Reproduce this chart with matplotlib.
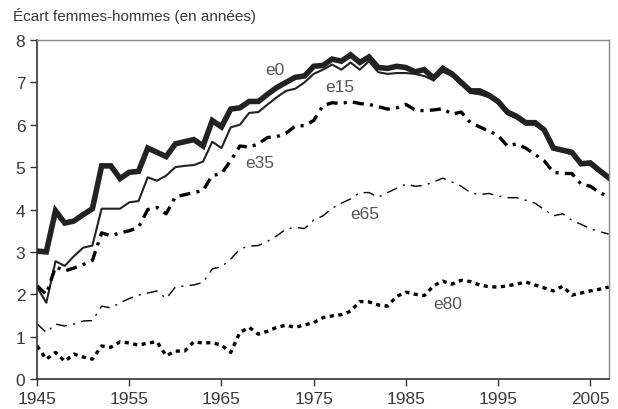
import numpy as np
import matplotlib
matplotlib.use("Agg")
import matplotlib.pyplot as plt

annees = list(range(1945, 2008))

e0 = [3.02, 3.00, 3.97, 3.68, 3.73, 3.88, 4.02, 5.03, 5.03, 4.73,
      4.88, 4.90, 5.45, 5.35, 5.25, 5.55, 5.60, 5.65, 5.50, 6.10,
      5.95, 6.37, 6.40, 6.55, 6.55, 6.72, 6.88, 7.00, 7.12, 7.15,
      7.38, 7.40, 7.55, 7.50, 7.65, 7.47, 7.60, 7.35, 7.33, 7.38,
      7.35, 7.25, 7.30, 7.10, 7.33, 7.20, 7.00, 6.80, 6.80, 6.70,
      6.55, 6.30, 6.20, 6.05, 6.05, 5.88, 5.45, 5.40, 5.35, 5.08,
      5.10, 4.92, 4.75]

e15 = [2.17, 1.80, 2.78, 2.67, 2.90, 3.10, 3.15, 4.02, 4.02, 4.02,
       4.17, 4.20, 4.76, 4.68, 4.80, 5.00, 5.03, 5.05, 5.13, 5.60,
       5.45, 5.94, 6.00, 6.28, 6.30, 6.48, 6.65, 6.80, 6.85, 7.00,
       7.20, 7.30, 7.42, 7.30, 7.47, 7.30, 7.50, 7.24, 7.20, 7.22,
       7.22, 7.20, 7.15, 7.05, 7.25, 7.15, 6.95, 6.75, 6.72, 6.65,
       6.50, 6.25, 6.15, 6.00, 6.00, 5.85, 5.42, 5.37, 5.30, 5.05,
       5.05, 4.88, 4.72]

e35 = [2.20, 2.00, 2.65, 2.55, 2.62, 2.70, 2.80, 3.45, 3.38, 3.45,
       3.50, 3.58, 4.00, 4.05, 3.90, 4.30, 4.35, 4.40, 4.45, 4.80,
       4.85, 5.15, 5.50, 5.47, 5.55, 5.70, 5.72, 5.80, 5.97, 5.98,
       6.10, 6.45, 6.52, 6.50, 6.55, 6.50, 6.48, 6.43, 6.37, 6.40,
       6.48, 6.35, 6.33, 6.35, 6.38, 6.25, 6.30, 6.05, 5.95, 5.85,
       5.75, 5.50, 5.55, 5.45, 5.30, 5.15, 4.88, 4.85, 4.85, 4.60,
       4.55, 4.40, 4.30]

e65 = [1.30, 1.10, 1.30, 1.25, 1.30, 1.37, 1.38, 1.72, 1.68, 1.80,
       1.90, 1.98, 2.03, 2.08, 1.90, 2.17, 2.20, 2.22, 2.28, 2.60,
       2.65, 2.83, 3.07, 3.14, 3.15, 3.25, 3.38, 3.54, 3.58, 3.55,
       3.75, 3.85, 4.03, 4.15, 4.25, 4.40, 4.40, 4.29, 4.40, 4.50,
       4.60, 4.55, 4.57, 4.65, 4.74, 4.65, 4.55, 4.40, 4.35, 4.38,
       4.32, 4.28, 4.28, 4.22, 4.15, 4.00, 3.85, 3.90, 3.75, 3.65,
       3.55, 3.48, 3.42]

e80 = [0.78, 0.47, 0.63, 0.42, 0.59, 0.52, 0.47, 0.78, 0.75, 0.88,
       0.85, 0.80, 0.85, 0.88, 0.55, 0.66, 0.66, 0.88, 0.85, 0.86,
       0.80, 0.63, 1.10, 1.22, 1.06, 1.13, 1.22, 1.27, 1.22, 1.28,
       1.33, 1.45, 1.49, 1.52, 1.60, 1.83, 1.82, 1.75, 1.72, 1.95,
       2.05, 2.00, 1.97, 2.20, 2.31, 2.24, 2.33, 2.30, 2.22, 2.18,
       2.17, 2.20, 2.24, 2.29, 2.22, 2.15, 2.08, 2.19, 1.98, 2.03,
       2.08, 2.12, 2.17]

# etiquettes des courbes (x, y en unites de donnees)
etiquettes = ["e0", "e15", "e35", "e65", "e80"]
etiq_x = [1970.8, 1977.8, 1969.1, 1980.5, 1989.5]
etiq_y = [7.31, 6.91, 5.12, 3.90, 1.79]

plt.rcParams['font.family'] = ['Liberation Sans', 'DejaVu Sans']
plt.rcParams['lines.scale_dashes'] = False
gris = "#3a3a3a"

fig = plt.figure(figsize=(6.18, 4.10), dpi=100)
ax = fig.add_axes([0.060, 0.073, 0.925, 0.827])

ax.plot(annees, e0, color="#222222", lw=4.0, solid_joinstyle="miter")
ax.plot(annees, e15, color="#222222", lw=1.5)
ax.plot(annees, e35, color="black", lw=2.4, dashes=(8.0, 4.5, 2.2, 4.5))
ax.plot(annees, e65, color="black", lw=1.0, dashes=(8.0, 4.5, 1.5, 4.5))
ax.plot(annees, e80, color="black", lw=2.4, dashes=(3.0, 3.2))

for t, x, y in zip(etiquettes, etiq_x, etiq_y):
    ax.text(x, y, t, ha="center", va="center", fontsize=12.5, color="#555555")

ax.set_xlim(1945, 2007)
ax.set_ylim(0, 8)
ax.set_xticks(range(1945, 2006, 10))
ax.set_yticks(range(0, 9))
ax.tick_params(direction="out", length=5, width=1, colors="#333333",
               labelsize=12.5, labelcolor=gris)
for s in ["left", "bottom"]:
    ax.spines[s].set_color("#333333")
    ax.spines[s].set_linewidth(1.2)
for s in ["top", "right"]:
    ax.spines[s].set_color("#888888")
    ax.spines[s].set_linewidth(1.0)

fig.text(0.021, 0.961, "Écart femmes-hommes (en années)", fontsize=11,
         color=gris, ha="left", va="center")

fig.savefig("out.png", dpi=100)
